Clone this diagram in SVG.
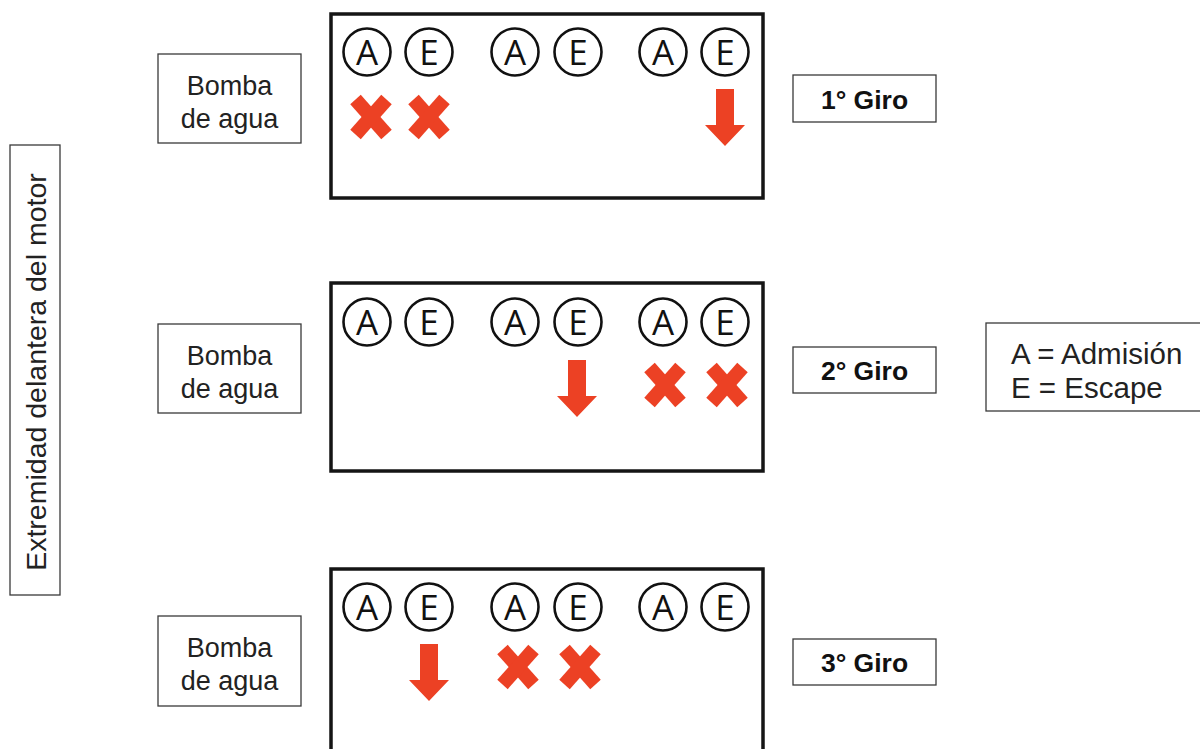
<svg xmlns="http://www.w3.org/2000/svg" xmlns:xlink="http://www.w3.org/1999/xlink" width="1200" height="749" viewBox="0 0 1200 749">
<style>
.bg{fill:#ffffff}
.engine{fill:#ffffff;stroke:#151515;stroke-width:3.5}
.label{fill:#ffffff;stroke:#3a3a3a;stroke-width:1.3}
.valve{fill:#ffffff;stroke:#111111;stroke-width:2.6}
.vtxt{font-family:"Open Sans","Liberation Sans",sans-serif;font-size:35px;fill:#111111;text-anchor:middle}
.ltxt{font-family:"Liberation Sans","DejaVu Sans",sans-serif;font-size:27px;fill:#222222}
.lg{font-size:29.5px}
.vt{font-size:28.5px}
.gtxt{font-family:"Liberation Sans","DejaVu Sans",sans-serif;font-size:26.5px;font-weight:bold;fill:#111111;text-anchor:middle}
.mid{text-anchor:middle}
.red{fill:#ec4124}
.xline{stroke:#ec4124;stroke-width:14;stroke-linecap:butt}
</style>
<defs>
<g id="cross">
<line class="xline" x1="-15.5" y1="-17.5" x2="15.5" y2="17.5"/>
<line class="xline" x1="15.5" y1="-17.5" x2="-15.5" y2="17.5"/>
</g>
<path id="arrow" class="red" d="M -9 0 H 9 V 36 H 20 L 0 57 L -20 36 H -9 Z"/>
<g id="valves">
<circle class="valve" cx="367" cy="0" r="23.5"/>
<circle class="valve" cx="429" cy="0" r="23.5"/>
<circle class="valve" cx="515" cy="0" r="23.5"/>
<circle class="valve" cx="578" cy="0" r="23.5"/>
<circle class="valve" cx="663" cy="0" r="23.5"/>
<circle class="valve" cx="725" cy="0" r="23.5"/>
<text class="vtxt" x="367" y="12.5">A</text>
<text class="vtxt" x="429" y="12.5">E</text>
<text class="vtxt" x="515" y="12.5">A</text>
<text class="vtxt" x="578" y="12.5">E</text>
<text class="vtxt" x="663" y="12.5">A</text>
<text class="vtxt" x="725" y="12.5">E</text>
</g>
</defs>
<rect class="bg" x="0" y="0" width="1200" height="749"/>

<g id="front-end">
<rect class="label" x="10" y="145" width="50" height="450"/>
<text class="ltxt vt mid" transform="translate(46,372) rotate(-90)">Extremidad delantera del motor</text>
</g>

<g id="engine-1">
<rect class="engine" x="331" y="14" width="432" height="184"/>
<use xlink:href="#valves" transform="translate(0,52)"/>
<use xlink:href="#cross" transform="translate(371,117)"/>
<use xlink:href="#cross" transform="translate(429,117)"/>
<use xlink:href="#arrow" transform="translate(725,89)"/>
</g>
<g id="pump-1">
<rect class="label" x="158" y="54" width="143" height="89"/>
<text class="ltxt mid" x="229.5" y="95">Bomba</text>
<text class="ltxt mid" x="229.5" y="128">de agua</text>
</g>
<g id="turn-1">
<rect class="label" x="793" y="75" width="143" height="47"/>
<text class="gtxt" x="864.5" y="109">1° Giro</text>
</g>

<g id="engine-2">
<rect class="engine" x="331" y="283" width="432" height="188"/>
<use xlink:href="#valves" transform="translate(0,322)"/>
<use xlink:href="#arrow" transform="translate(577,360)"/>
<use xlink:href="#cross" transform="translate(665,385)"/>
<use xlink:href="#cross" transform="translate(727,385)"/>
</g>
<g id="pump-2">
<rect class="label" x="158" y="324" width="143" height="89"/>
<text class="ltxt mid" x="229.5" y="365">Bomba</text>
<text class="ltxt mid" x="229.5" y="398">de agua</text>
</g>
<g id="turn-2">
<rect class="label" x="793" y="347" width="143" height="46"/>
<text class="gtxt" x="864.5" y="380">2° Giro</text>
</g>
<g id="legend">
<rect class="label" x="986" y="323" width="220" height="88"/>
<text class="ltxt lg" x="1011" y="364">A = Admisión</text>
<text class="ltxt lg" x="1011" y="398">E = Escape</text>
</g>

<g id="engine-3">
<rect class="engine" x="331" y="569" width="432" height="188"/>
<use xlink:href="#valves" transform="translate(0,607)"/>
<use xlink:href="#arrow" transform="translate(429,644)"/>
<use xlink:href="#cross" transform="translate(518,667)"/>
<use xlink:href="#cross" transform="translate(580,667)"/>
</g>
<g id="pump-3">
<rect class="label" x="158" y="616" width="143" height="90"/>
<text class="ltxt mid" x="229.5" y="657">Bomba</text>
<text class="ltxt mid" x="229.5" y="690">de agua</text>
</g>
<g id="turn-3">
<rect class="label" x="793" y="639" width="143" height="46"/>
<text class="gtxt" x="864.5" y="672">3° Giro</text>
</g>
</svg>
